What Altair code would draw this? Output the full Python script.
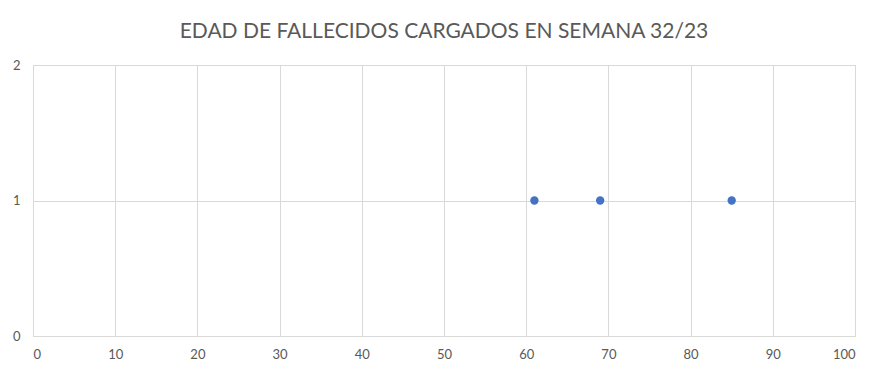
import altair as alt
import pandas as pd

ages = [61, 69, 85]
counts = [1, 1, 1]
title_text = "EDAD DE FALLECIDOS CARGADOS EN SEMANA 32/23"

df = pd.DataFrame({"edad": ages, "n": counts})

chart = alt.Chart(df).mark_circle(size=70, color="#4472C4", opacity=1).encode(
    x=alt.X("edad:Q", scale=alt.Scale(domain=[0, 100], nice=False),
            axis=alt.Axis(values=list(range(0, 101, 10)), title=None, domain=False,
                          ticks=False, labelPadding=12, gridColor="#d9d9d9",
                          labelExpr="toString(datum.value)",
                          labelColor="#595959", labelFontSize=13, labelFont="Lato")),
    y=alt.Y("n:Q", scale=alt.Scale(domain=[0, 2], nice=False),
            axis=alt.Axis(values=[0, 1, 2], title=None, domain=False, ticks=False,
                          labelPadding=13, gridColor="#d9d9d9",
                          labelExpr="toString(datum.value)",
                          labelColor="#595959", labelFontSize=13, labelFont="Lato")),
).properties(
    width=822, height=271,
    title=alt.TitleParams(title_text, fontSize=21, font="Lato", fontWeight="normal",
                          color="#595959", anchor="middle", offset=17),
    autosize=alt.AutoSizeParams(type="none"),
    padding={"left": 25, "top": 57, "right": 23, "bottom": 33},
).configure_view(stroke="#d9d9d9")

chart.save("out.html", embed_options={"renderer": "svg", "actions": False})
